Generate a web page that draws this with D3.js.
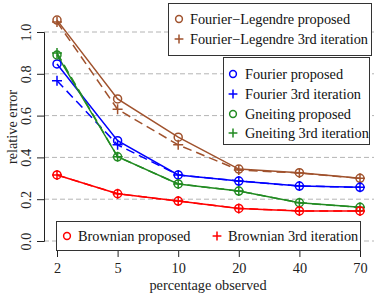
<!DOCTYPE html>
<html><head><meta charset="utf-8">
<script src="https://cdn.jsdelivr.net/npm/d3@7"></script>
<style>body{margin:0;background:#fff}svg{display:block}</style>
</head><body><svg id="c" width="374" height="298"></svg>
<script>
const categories = ["2","5","10","20","40","70"];
const yTicks = [0,0.2,0.4,0.6,0.8,1.0];
const flProposed = [1.057,0.68,0.497,0.344,0.327,0.30];
const flIter3    = [1.048,0.63,0.46,0.34,0.325,0.30];
const fProposed  = [0.847,0.48,0.316,0.287,0.263,0.257];
const fIter3     = [0.767,0.46,0.316,0.287,0.263,0.257];
const gProposed  = [0.89,0.403,0.273,0.239,0.183,0.161];
const gIter3     = [0.90,0.403,0.273,0.239,0.183,0.161];
const bProposed  = [0.316,0.226,0.191,0.156,0.144,0.144];
const bIter3     = [0.316,0.226,0.191,0.156,0.144,0.144];

const FONT = "Liberation Serif";
const FS = 14.3;
const series = [
  {name:"Fourier\u2212Legendre proposed", vals:flProposed, color:"#A0522D", dash:null, mark:"o"},
  {name:"Fourier\u2212Legendre 3rd iteration", vals:flIter3, color:"#A0522D", dash:"9,5", mark:"+"},
  {name:"Fourier proposed", vals:fProposed, color:"#0000FF", dash:null, mark:"o"},
  {name:"Fourier 3rd iteration", vals:fIter3, color:"#0000FF", dash:"9,5", mark:"+"},
  {name:"Gneiting proposed", vals:gProposed, color:"#228B22", dash:null, mark:"o"},
  {name:"Gneiting 3rd iteration", vals:gIter3, color:"#228B22", dash:"9,5", mark:"+"},
  {name:"Brownian proposed", vals:bProposed, color:"#FF0000", dash:null, mark:"o"},
  {name:"Brownian 3rd iteration", vals:bIter3, color:"#FF0000", dash:"9,5", mark:"+"}
];

const svg = d3.select("#c");
const x = d3.scalePoint().domain(categories).range([57,360]);
const y = d3.scaleLinear().domain([0,1]).range([241,32]);

svg.append("g").selectAll("line").data(yTicks).join("line")
  .attr("x1",44).attr("x2",374).attr("y1",d=>y(d)).attr("y2",d=>y(d))
  .attr("stroke","#b4b4b4").attr("stroke-width",1).attr("stroke-dasharray","5,3");

const ya = svg.append("g").attr("transform","translate(44,0)")
  .call(d3.axisLeft(y).tickValues(yTicks).tickFormat(d3.format(".1f")).tickSizeOuter(0).tickSize(7));
ya.attr("font-family",FONT).attr("font-size",FS);
ya.select(".domain").attr("stroke","#222");
ya.selectAll(".tick line").attr("stroke","#222");
ya.selectAll(".tick text").attr("fill","#222")
  .attr("text-anchor","middle").attr("x",0).attr("y",0)
  .attr("transform","translate(-18,0) rotate(-90)").attr("dy","0.35em");

const xa = svg.append("g").attr("transform","translate(0,250)")
  .call(d3.axisBottom(x).tickSize(7).tickSizeOuter(0));
xa.attr("font-family",FONT).attr("font-size",FS);
xa.select(".domain").remove();
xa.selectAll(".tick line").attr("stroke","#222");
xa.selectAll(".tick text").attr("fill","#222").attr("dy","0.92em");

svg.append("text").attr("font-family",FONT).attr("x",208).attr("y",290).attr("text-anchor","middle").attr("font-size",FS).attr("fill","#222").text("percentage observed");
svg.append("text").attr("font-family",FONT).attr("transform","translate(12,127) rotate(-90)").attr("text-anchor","middle").attr("dy","0.35em").attr("font-size",FS).attr("fill","#222").text("relative error");

const line = d3.line().x((d,i)=>x(categories[i])).y(d=>y(d));
series.forEach(s=>{
  svg.append("path").datum(s.vals).attr("d",line).attr("fill","none")
    .attr("stroke",s.color).attr("stroke-width",1.5).attr("stroke-dasharray",s.dash);
});
function drawMark(g,cx,cy,m,color,r){
  r = r||4;
  if(m==="o") g.append("circle").attr("cx",cx).attr("cy",cy).attr("r",r).attr("fill","none").attr("stroke",color).attr("stroke-width",1.5);
  else g.append("path").attr("d",`M${cx-r-1},${cy}H${cx+r+1}M${cx},${cy-r-1}V${cy+r+1}`).attr("stroke",color).attr("stroke-width",1.5);
}
series.forEach(s=>{
  const g = svg.append("g");
  s.vals.forEach((v,i)=>drawMark(g,x(categories[i]),y(v),s.mark,s.color,4));
});

function legend(box, items){
  svg.append("rect").attr("x",box[0]+0.5).attr("y",box[1]+0.5).attr("width",box[2]).attr("height",box[3])
    .attr("fill","#fff").attr("stroke","#333").attr("stroke-width",1);
  items.forEach(it=>{
    const s=series[it.i];
    drawMark(svg,it.mx,it.y,s.mark,s.color,3.4);
    svg.append("text").attr("font-family",FONT).attr("x",it.tx).attr("y",it.y).attr("dy","0.35em").attr("font-size",FS).attr("fill","#111").text(s.name);
  });
}
legend([168,3,203,52],[{i:0,mx:179,tx:190,y:19},{i:1,mx:179,tx:190,y:39}]);
legend([223,57,146,87],[{i:2,mx:233,tx:245,y:74},{i:3,mx:233,tx:245,y:94},{i:4,mx:233,tx:245,y:114},{i:5,mx:233,tx:245,y:133}]);
legend([56,221,304,29],[{i:6,mx:67,tx:78,y:236},{i:7,mx:217,tx:228,y:236}]);
</script></body></html>
